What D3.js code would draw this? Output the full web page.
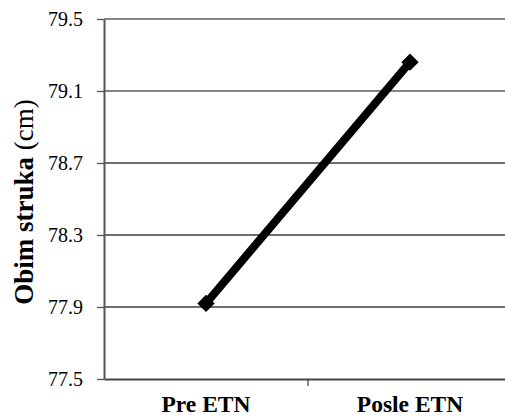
<!DOCTYPE html>
<html>
<head>
<meta charset="utf-8">
<script src="https://cdn.jsdelivr.net/npm/d3@7"></script>
</head>
<body style="margin:0">
<div id="chart"></div>
<script>
// data
const categories = ["Pre ETN", "Posle ETN"];
const waist = [77.92, 79.26];
const yTicks = [77.5, 77.9, 78.3, 78.7, 79.1, 79.5];

var width = 505;
var height = 418;
var plot = {left: 104, right: 512, top: 19, bottom: 379};
var fontName = "Liberation Serif";

var svg = d3.select("#chart").append("svg")
    .attr("width", width)
    .attr("height", height)
    .attr("font-family", fontName);

var x = d3.scaleBand()
    .domain(categories)
    .range([plot.left, plot.right]);

var y = d3.scaleLinear()
    .domain([77.5, 79.5])
    .range([plot.bottom, plot.top]);

// gridlines
svg.append("g")
    .selectAll("line")
    .data(yTicks.slice(1))
    .join("line")
    .attr("x1", plot.left)
    .attr("x2", plot.right)
    .attr("y1", d => y(d))
    .attr("y2", d => y(d))
    .attr("stroke", (d, i) => i >= 3 ? "#858585" : "#404040")
    .attr("stroke-width", (d, i) => i >= 3 ? 2 : 1.3);

// y axis
var yAxis = svg.append("g")
    .attr("transform", "translate(" + plot.left + ",0)")
    .call(d3.axisLeft(y).tickValues(yTicks).tickFormat(d3.format(".1f")).tickSize(7).tickSizeOuter(0));
yAxis.attr("font-family", null).attr("font-size", null);
yAxis.select(".domain").attr("stroke", "#555").attr("stroke-width", 2);
yAxis.selectAll(".tick line").attr("stroke", "#555").attr("stroke-width", 1.3);
yAxis.selectAll(".tick text")
    .attr("x", -21)
    .style("font-size", "20px")
    .attr("fill", "#000");

// x axis
var xAxis = svg.append("g")
    .attr("transform", "translate(0," + plot.bottom + ")")
    .call(d3.axisBottom(x).tickSize(0).tickSizeOuter(0));
xAxis.attr("font-family", null).attr("font-size", null);
xAxis.select(".domain").attr("stroke", "#444").attr("stroke-width", 2);
xAxis.selectAll(".tick text")
    .attr("y", 33)
    .attr("dy", null)
    .style("font-size", "23.5px")
    .style("font-weight", "bold")
    .attr("fill", "#000");

// tick marks between categories
svg.append("g")
    .selectAll("line")
    .data(categories.slice(1))
    .join("line")
    .attr("x1", d => x(d))
    .attr("x2", d => x(d))
    .attr("y1", plot.bottom)
    .attr("y2", plot.bottom + 7)
    .attr("stroke", "#444")
    .attr("stroke-width", 1.3);

// y title
var title = svg.append("text")
    .attr("transform", "translate(33," + ((plot.top + plot.bottom) / 2 + 3) + ") rotate(-90)")
    .attr("text-anchor", "middle")
    .style("font-size", "27px")
    .attr("fill", "#000");
title.append("tspan").style("font-weight", "bold").text("Obim struka");
title.append("tspan").text(" (cm)");

// series line
var cx = d => x(d) + x.bandwidth() / 2;
var pts = categories.map((c, i) => [cx(c), y(waist[i])]);

svg.append("path")
    .datum(pts)
    .attr("d", d3.line())
    .attr("fill", "none")
    .attr("stroke", "#000")
    .attr("stroke-width", 8);

svg.append("g")
    .selectAll("path")
    .data(pts)
    .join("path")
    .attr("d", d3.symbol().type(d3.symbolSquare).size(150))
    .attr("transform", d => "translate(" + d[0] + "," + d[1] + ") rotate(45)")
    .attr("fill", "#000");
</script>
</body>
</html>
